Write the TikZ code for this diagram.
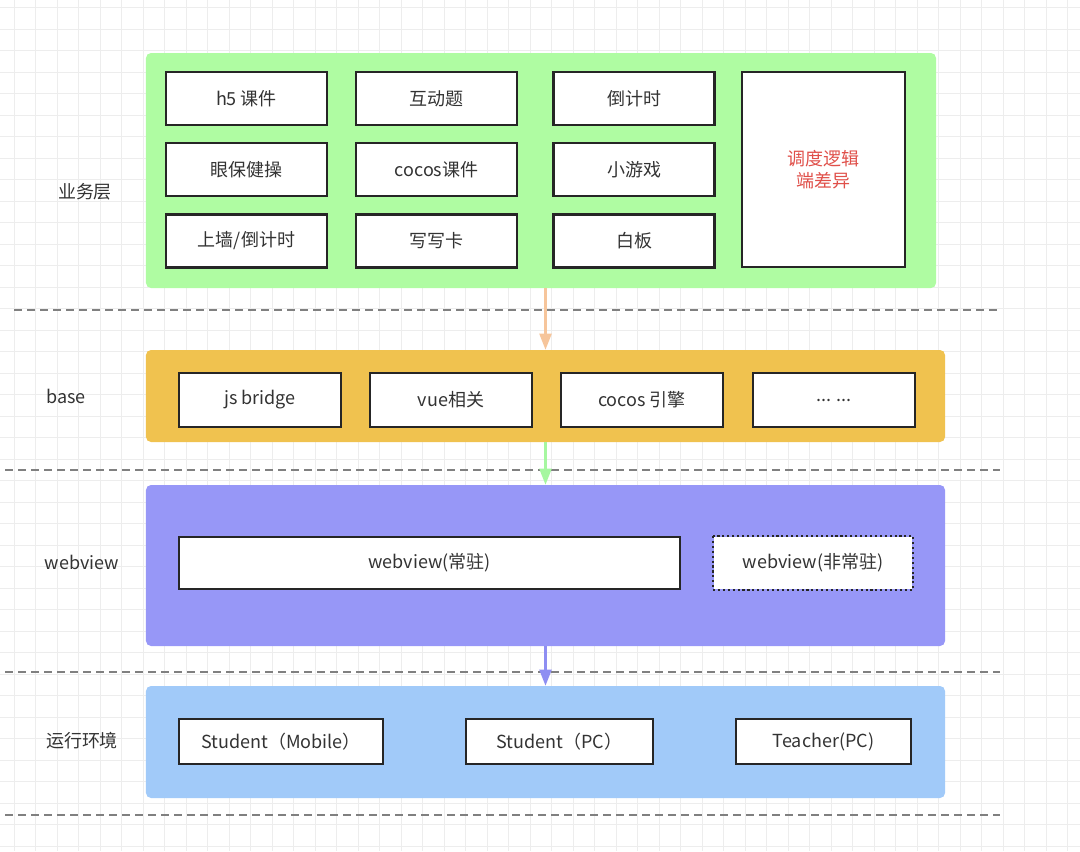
\documentclass[tikz,border=0pt]{standalone}
\usepackage{fontspec}
\setmainfont{Noto Sans CJK SC}
\usetikzlibrary{arrows.meta, positioning}

\definecolor{gridc}{HTML}{EDEDED}
\definecolor{textc}{HTML}{333333}
\definecolor{bizc}{HTML}{AFFCA2}
\definecolor{basec}{HTML}{F0C24F}
\definecolor{webc}{HTML}{9797F7}
\definecolor{envc}{HTML}{A1CAF9}
\definecolor{arrA}{HTML}{F6C59B}
\definecolor{arrB}{HTML}{A6F7A0}
\definecolor{arrC}{HTML}{8E8EF2}
\definecolor{redc}{HTML}{E0504A}

\begin{document}
\begin{tikzpicture}[
  x=0.25mm, y=-0.25mm,
  font=\fontsize{12.8}{16}\selectfont, text=textc,
  layer/.style = {rounded corners=1.25mm, inner sep=0pt},
  block/.style = {draw=black!85, line width=1.5pt, fill=white, inner sep=0pt, minimum width=40.25mm, minimum height=13.25mm},
  wide/.style = {block, minimum width=40.5mm, minimum height=13.5mm},
  env/.style = {block, minimum height=11.25mm},
  arrow/.style = {line width=1.5pt, -{Triangle[width=3mm, length=4mm]}},
  sep/.style = {gray, line width=0.9pt, dash pattern=on 2mm off 1.25mm}
]

  \useasboundingbox (0,0) rectangle (1080,851);

  % Background grid
  \foreach \i in {0,...,50} {
    \draw[gridc, line width=0.6pt] ({14+21.5*\i},0) -- ({14+21.5*\i},851);
  }
  \foreach \j in {0,...,39} {
    \draw[gridc, line width=0.6pt] (0,{7.5+21.5*\j}) -- (1080,{7.5+21.5*\j});
  }

  % Layers
  \node[layer, fill=bizc, minimum width=197.5mm, minimum height=58.75mm] (biz) at (541,170.5) {};
  \node[layer, fill=basec, minimum width=199.75mm, minimum height=23mm] (base) at (545.5,396) {};
  \node[layer, fill=webc, minimum width=199.75mm, minimum height=40.25mm] (web) at (545.5,565.5) {};
  \node[layer, fill=envc, minimum width=199.75mm, minimum height=28mm] (env) at (545.5,742) {};

  % Layer names
  \node (biz_lbl) at (85,192) {业务层};
  \node (base_lbl) at (66,396) {base};
  \node (web_lbl) at (82,562) {webview};
  \node (env_lbl) at (82,741) {运行环境};

  % Separators
  \draw[sep] (14,310) -- (1000,310);
  \draw[sep] (5,470) -- (1000,470);
  \draw[sep] (5,672) -- (1000,672);
  \draw[sep] (5,815) -- (1000,815);

  % Business blocks
  \node[block] (h5) at (246.5,98.5) {h5 课件};
  \node[block] (quiz) at (436.5,98.5) {互动题};
  \node[block] (timer) at (634,98.5) {倒计时};
  \node[block] (eyes) at (246.5,169.5) {眼保健操};
  \node[block] (cocos_cw) at (436.5,169.5) {cocos课件};
  \node[block] (game) at (634,169.5) {小游戏};
  \node[block] (wall) at (246.5,241) {上墙/倒计时};
  \node[block] (card) at (436.5,241) {写写卡};
  \node[block] (board) at (634,241) {白板};
  \node[block, minimum width=40.75mm, minimum height=48.75mm, align=center, text=redc] (sched) at (823.5,169.5) {调度逻辑\\端差异};

  % Base blocks
  \node[wide] (bridge) at (260,400) {js bridge};
  \node[wide] (vue) at (451,400) {vue相关};
  \node[wide] (engine) at (642,400) {cocos 引擎};
  \node[wide] (more) at (834,400) {... ...};

  % Webview blocks
  \node[block, minimum width=125.25mm, minimum height=13mm] (wv_main) at (429.5,563) {webview(常驻)};
  \node[block, draw=none, minimum width=49.5mm, minimum height=13mm] (wv_temp) at (813,563) {webview(非常驻)};
  \draw[black!85, line width=1.5pt, dotted] (wv_temp.north west) rectangle (wv_temp.south east);

  % Runtime blocks
  \node[env, minimum width=51mm] (stu_mob) at (281,741.5) {Student（Mobile）};
  \node[env, minimum width=46.75mm] (stu_pc) at (559.5,741.5) {Student（PC）};
  \node[env, minimum width=43.75mm] (tea_pc) at (823.5,741.5) {Teacher(PC)};

  % Arrows
  \draw[arrow, arrA] (biz.south -| base.north) -- (base.north);
  \draw[arrow, arrB] (base.south) -- (web.north);
  \draw[arrow, arrC] (web.south) -- (env.north);

\end{tikzpicture}
\end{document}
